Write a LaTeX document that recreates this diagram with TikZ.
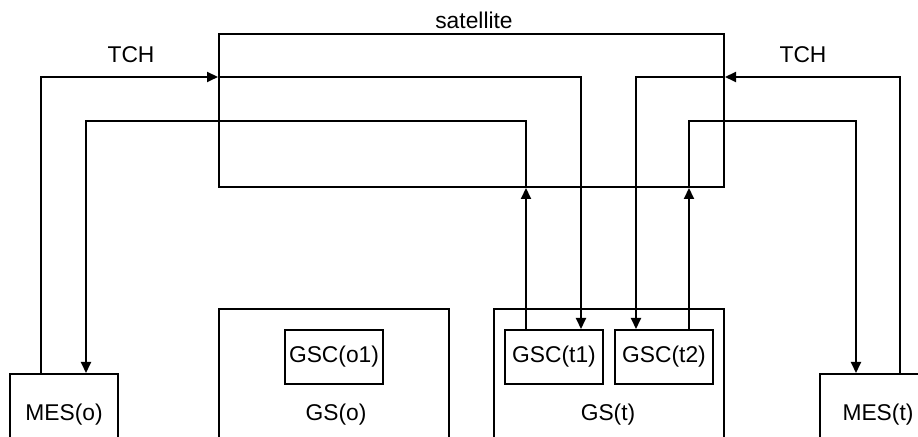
\documentclass[tikz,border=0pt]{standalone}
\usepackage{fontspec}
\setmainfont{Liberation Sans}
\usetikzlibrary{arrows.meta}
\begin{document}
\begin{tikzpicture}[x=0.5pt,y=-0.5pt, line width=1pt,
  box/.style={draw, line width=1pt, anchor=north west, inner sep=0pt, font=\fontsize{11.4}{13}\selectfont},
  lbl/.style={font=\fontsize{11.4}{13}\selectfont, inner sep=0pt},
  arr/.style={-{Triangle[length=5.5pt,width=5pt]}}]
\useasboundingbox (0,0) rectangle (918,437);
\clip (0,0) rectangle (918,437);
% boxes
\node[box, minimum width=252.5pt, minimum height=76.5pt] (sat) at (218,33) {};
\node[lbl] (satL) at (474,20) {satellite};
\node[lbl] (tchL) at (131,55) {TCH};
\node[lbl] (tchR) at (803,55) {TCH};
\node[box, minimum width=54pt, minimum height=45pt] (meso) at (9,373) {};
\node[lbl] (mesoL) at (64,415) {MES(o)};
\node[box, minimum width=115pt, minimum height=75pt] (gso) at (218,308) {};
\node[lbl] (gsoL) at (336,415) {GS(o)};
\node[box, minimum width=49pt, minimum height=27pt] (gsco1) at (284,329) {GSC(o1)};
\node[box, minimum width=115pt, minimum height=75pt] (gst) at (493,308) {};
\node[lbl] (gstL) at (608,415) {GS(t)};
\node[box, minimum width=49pt, minimum height=27pt] (gsct1) at (504,329) {GSC(t1)};
\node[box, minimum width=49pt, minimum height=27pt] (gsct2) at (614,329) {GSC(t2)};
\node[box, minimum width=54pt, minimum height=45pt] (mest) at (819,373) {};
\node[lbl] (mestL) at (878,415) {MES(t)};
% connectors
\draw[arr] (41,0 |- meso.north) -- (41,77) -- (sat.west |- 0,77);
\draw[arr] (sat.west |- 0,77) -- (581,77) -- (581,0 |- gsct1.north);
\draw[arr] (526,0 |- gsct1.north) -- (526,0 |- sat.south);
\draw[arr] (526,0 |- sat.south) -- (526,121) -- (86,121) -- (86,0 |- meso.north);
\draw[arr] (900,0 |- mest.north) -- (900,77) -- (sat.east |- 0,77);
\draw[arr] (sat.east |- 0,77) -- (636,77) -- (636,0 |- gsct2.north);
\draw[arr] (689,0 |- gsct2.north) -- (689,0 |- sat.south);
\draw[arr] (689,0 |- sat.south) -- (689,121) -- (856,121) -- (856,0 |- mest.north);
\end{tikzpicture}
\end{document}
